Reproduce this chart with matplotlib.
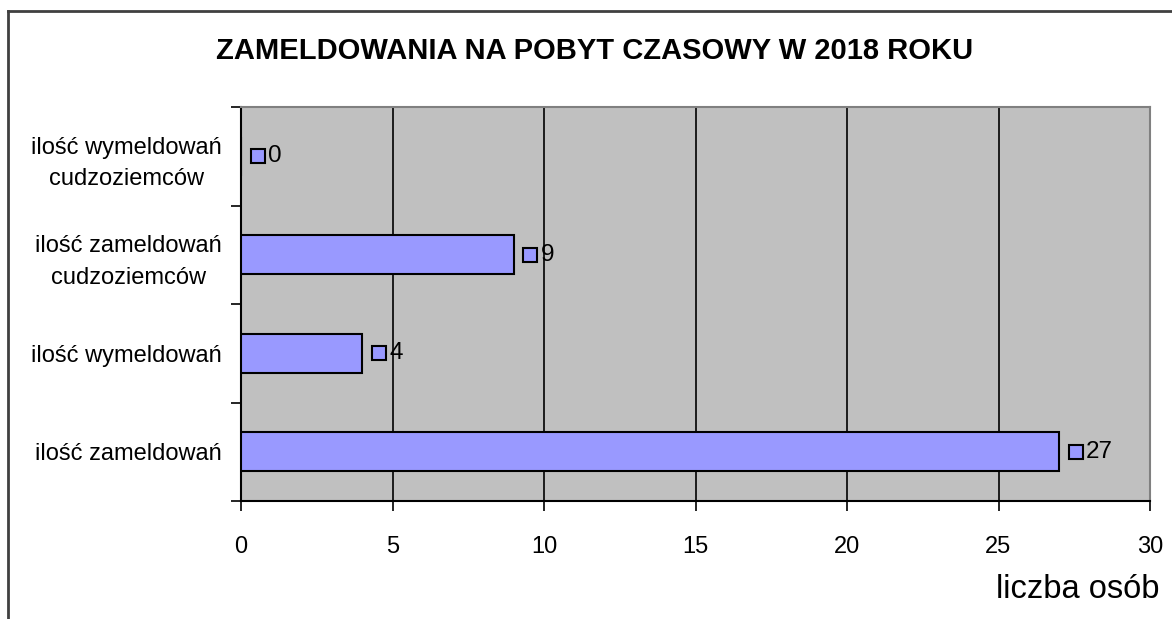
import matplotlib
matplotlib.use("Agg")
import matplotlib.pyplot as plt
import matplotlib.transforms as mtransforms
from matplotlib.lines import Line2D

plt.rcParams['font.family'] = ['Liberation Sans', 'DejaVu Sans']

# data (bottom to top, as drawn in the chart)
categories = ["ilość zameldowań", "ilość wymeldowań",
              "ilość zameldowań\ncudzoziemców", "ilość wymeldowań\ncudzoziemców"]
values = [27, 4, 9, 0]
x_ticks = [0, 5, 10, 15, 20, 25, 30]

title = "ZAMELDOWANIA NA POBYT CZASOWY W 2018 ROKU"
x_label = "liczba osób"

bar_color = "#9999FF"
plot_bg = "#C0C0C0"

W, H = 1172, 619
fig = plt.figure(figsize=(W / 100, H / 100), dpi=100)
fig.patch.set_facecolor("white")

# plot area in pixel coordinates of the reference
left, right, top, bottom = 241, 1150, 107, 501
ax = fig.add_axes([left / W, 1 - bottom / H, (right - left) / W, (bottom - top) / H])
ax.set_facecolor(plot_bg)

ypos = list(range(len(categories)))
ax.barh(ypos, values, height=0.4, color=bar_color, edgecolor="black",
        linewidth=1.5, zorder=3)

ax.set_xlim(0, 30)
ax.set_ylim(-0.5, len(categories) - 0.5)

# vertical grid lines
ax.set_xticks(x_ticks)
ax.set_xticklabels([str(t) for t in x_ticks], fontsize=17)
ax.xaxis.grid(True, color="black", linewidth=1.2, zorder=1)
ax.set_axisbelow(True)
ax.tick_params(axis="x", direction="out", length=7, width=1.2, pad=18)

# y ticks at category boundaries, labels in between
ax.set_yticks([i - 0.5 for i in range(len(categories) + 1)])
ax.set_yticklabels([])
ax.set_yticks(ypos, minor=True)
ax.set_yticklabels(categories, minor=True, fontsize=17,
                   multialignment="center", linespacing=1.55)
ax.tick_params(axis="y", which="major", direction="out", length=7, width=1.2)
ax.tick_params(axis="y", which="minor", length=0, pad=14)

for side in ["left", "bottom"]:
    ax.spines[side].set_color("black")
    ax.spines[side].set_linewidth(1.5)
for side in ["right", "top"]:
    ax.spines[side].set_color("#808080")
    ax.spines[side].set_linewidth(1.5)

# data labels with legend keys to the right of each bar
key_shift = mtransforms.ScaledTranslation(12 / 72, 0, fig.dpi_scale_trans)
for y, v in zip(ypos, values):
    ax.plot([v], [y], marker="s", markersize=10, markerfacecolor=bar_color,
            markeredgecolor="black", markeredgewidth=1.5, linestyle="none",
            zorder=4, clip_on=False, transform=ax.transData + key_shift)
    ax.annotate(str(v), (v, y), xytext=(19.5, 0), textcoords="offset points",
                ha="left", va="center", fontsize=17.5, zorder=5)

fig.text(595 / W, 1 - 51 / H, title, ha="center", va="center",
         fontsize=21, fontweight="bold")
fig.text(1160 / W, 1 - 590 / H, x_label, ha="right", va="center", fontsize=23.5)

# chart border (left and top edges visible)
fig.add_artist(Line2D([8 / W, 8 / W], [0, 1 - 11 / H], color="#404040",
                      linewidth=2, transform=fig.transFigure))
fig.add_artist(Line2D([8 / W, 1], [1 - 11 / H, 1 - 11 / H], color="#404040",
                      linewidth=2, transform=fig.transFigure))

fig.savefig("out.png", dpi=100)
